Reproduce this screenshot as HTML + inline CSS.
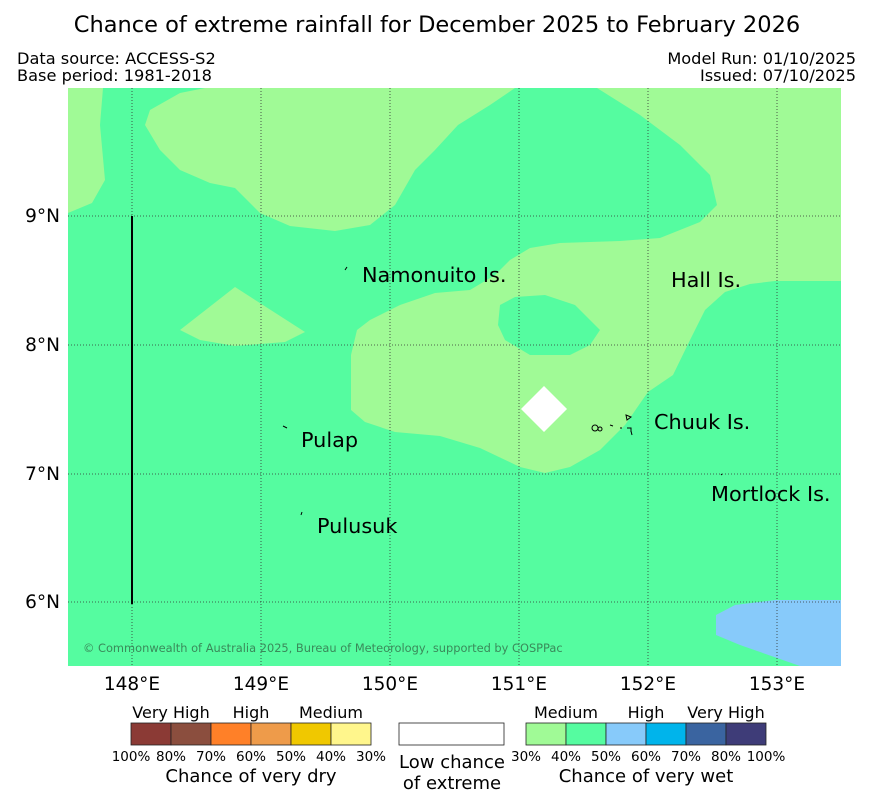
<!DOCTYPE html>
<html><head><meta charset="utf-8"><style>
body{margin:0;background:#fff;font-family:"Liberation Sans","DejaVu Sans",sans-serif}
</style></head><body>
<svg width="873" height="804" viewBox="0 0 873 804" xmlns="http://www.w3.org/2000/svg" font-family="DejaVu Sans, Liberation Sans, sans-serif">
<text x="437" y="32" font-size="22.5" text-anchor="middle">Chance of extreme rainfall for December 2025 to February 2026</text>
<text x="17" y="64" font-size="16.2">Data source: ACCESS-S2</text>
<text x="17" y="81" font-size="16.2">Base period: 1981-2018</text>
<text x="856" y="64" font-size="16.2" text-anchor="end">Model Run: 01/10/2025</text>
<text x="856" y="81" font-size="16.2" text-anchor="end">Issued: 07/10/2025</text>
<g>
<rect x="68" y="88" width="773" height="578" fill="#55fca0"/>
<polygon fill="#a0fa96" points="68,88 103,88 100,125 105,180 92,203 68,213"/>
<polygon fill="#a0fa96" points="205,88 180,93 150,110 145,125 160,150 180,170 210,183 235,188 260,213 290,226 335,231 370,225 395,205 415,170 435,150 458,125 490,105 515,88"/>
<polygon fill="#a0fa96" points="597,88 640,115 680,145 710,175 717,205 700,222 660,238 620,241 560,243 530,248 510,260 495,275 470,290 435,293 400,305 370,320 357,330 351,355 351,410 365,422 395,432 440,436 480,448 520,467 545,473 570,467 600,450 625,425 648,392 673,375 690,340 705,310 725,292 750,284 775,281 841,281 841,88"/>
<polygon fill="#55fca0" points="500,305 515,297 545,295 575,305 600,330 590,345 570,355 530,355 505,340 498,325"/>
<polygon fill="#a0fa96" points="180,330 235,287 305,332 285,342 235,346 200,340"/>
<polygon fill="#87cafa" points="716,615 735,605 775,600 841,600 841,666 800,666 740,645 716,635"/>
<polygon fill="#ffffff" points="544,386 567,409 544,432 521,409"/>
<g stroke="#333" stroke-width="0.8" stroke-dasharray="1,2">
<line x1="132" y1="88" x2="132" y2="666"/><line x1="261" y1="88" x2="261" y2="666"/><line x1="390" y1="88" x2="390" y2="666"/><line x1="519" y1="88" x2="519" y2="666"/><line x1="648" y1="88" x2="648" y2="666"/><line x1="777" y1="88" x2="777" y2="666"/>
<line x1="68" y1="216" x2="841" y2="216"/><line x1="68" y1="345" x2="841" y2="345"/><line x1="68" y1="474" x2="841" y2="474"/><line x1="68" y1="602" x2="841" y2="602"/>
</g>
<line x1="132" y1="216" x2="132" y2="604" stroke="#000" stroke-width="2"/>
<g font-size="20.8">
<text x="362" y="282">Namonuito Is.</text><text x="671" y="287">Hall Is.</text>
<text x="301" y="447">Pulap</text><text x="317" y="533">Pulusuk</text>
<text x="654" y="429">Chuuk Is.</text><text x="711" y="501">Mortlock Is.</text>
</g>
<g fill="none" stroke="#000" stroke-width="1">
<path d="M347,267 l-2,3"/><path d="M283,426 l4,2"/><path d="M302,512 l-1,3"/>
<circle cx="595" cy="428" r="3"/><circle cx="600" cy="429" r="2"/><path d="M610,425 l3,1 M620,428 l2,0 M626,415 l5,2 -4,3z M627,428 l4,0 0,4 M631,431 l1,4"/><path d="M721,474 l1,1"/>
</g>
<text x="83" y="652" font-size="11.4" fill="#3a8a5a">© Commonwealth of Australia 2025, Bureau of Meteorology, supported by COSPPac</text>
</g>
<g font-size="18.5">
<text x="60" y="222" text-anchor="end">9°N</text><text x="60" y="351" text-anchor="end">8°N</text><text x="60" y="480" text-anchor="end">7°N</text><text x="60" y="608" text-anchor="end">6°N</text>
</g>
<g font-size="18.5" text-anchor="middle">
<text x="132" y="690">148°E</text><text x="261" y="690">149°E</text><text x="390" y="690">150°E</text><text x="519" y="690">151°E</text><text x="648" y="690">152°E</text><text x="777" y="690">153°E</text>
</g>
<g id="legend"></g>
</svg>
<script>
const dryColors=["#8b3a35","#8b4e3e","#ff8028","#ee9b4a","#f0c800","#fff68c"];
const wetColors=["#a0fa96","#55fca0","#87cafa","#00b4eb","#3a64a0","#3e3c78"];
const dryTicks=["100%","80%","70%","60%","50%","40%","30%"];
const wetTicks=["30%","40%","50%","60%","70%","80%","100%"];
const ns="http://www.w3.org/2000/svg";
const lg=document.getElementById('legend');
function mk(tag,attrs,txt){const e=document.createElementNS(ns,tag);for(const k in attrs)e.setAttribute(k,attrs[k]);if(txt)e.textContent=txt;lg.appendChild(e);return e;}
function bar(x0,cols,ticks,name){
  cols.forEach((c,i)=>{const r=mk('rect',{x:x0+i*40,y:723,width:40,height:22,fill:c,stroke:'#222','stroke-width':0.8});
    
    });
  ticks.forEach((t,i)=>{const e=mk('text',{x:x0+i*40,y:761,'font-size':13.5,'text-anchor':'middle'},t);
    
    });
}
bar(131,dryColors,dryTicks,'dry');
bar(526,wetColors,wetTicks,'wet');
const labs=[[171,"Very High"],[251,"High"],[331,"Medium"],[566,"Medium"],[646,"High"],[726,"Very High"],[251,"Chance of very dry",782],[646,"Chance of very wet",782],[452,"Low chance",768],[452,"of extreme",789]];
labs.forEach(l=>{const e=mk('text',{x:l[0],y:l[2]||718,'font-size':l[2]?18:16,'text-anchor':'middle'},l[1]);
  
  });
const w=mk('rect',{x:399,y:723,width:105,height:22,fill:'#fff',stroke:'#222','stroke-width':0.8});


</script>
</body></html>
